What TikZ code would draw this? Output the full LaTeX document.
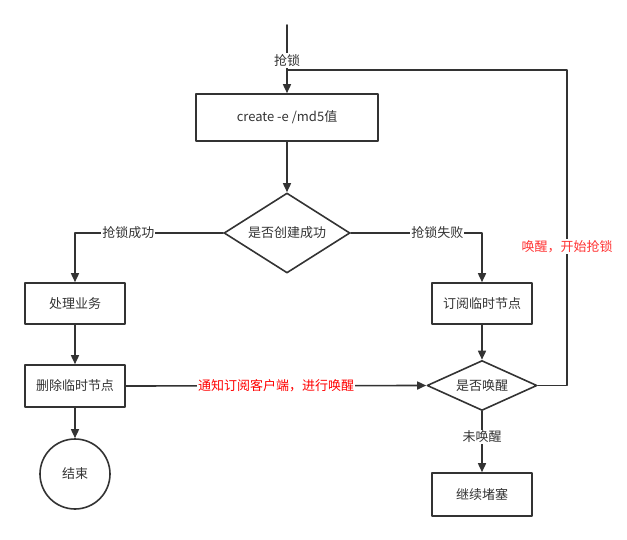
\documentclass[tikz,border=0pt]{standalone}
\usepackage{fontspec}
\setmainfont{Noto Sans CJK SC}
\usetikzlibrary{arrows.meta,shapes.geometric}
\definecolor{linegray}{RGB}{51,51,51}
\definecolor{wakered}{RGB}{255,0,0}
\definecolor{loopred}{RGB}{255,51,51}
\tikzset{
    lab/.style={
        font=\fontsize{13}{15}\selectfont
    }
}

\begin{document}
\begin{tikzpicture}[x=1pt,y=-1pt, line cap=round, line join=round]

% box + arrow styles
\tikzset{
  main/.style={draw=linegray, line width=1.6pt},
  flow/.style={main, -{Triangle[length=9pt,width=8pt]}},
  procbox/.style={rectangle, draw=linegray, line width=1.6pt, minimum width=100pt, minimum height=41pt, inner sep=0pt, lab, text=linegray},
  decide/.style={diamond, draw=linegray, line width=1.6pt, inner sep=0pt, lab, text=linegray},
  endcirc/.style={circle, draw=linegray, line width=1.6pt, minimum size=70pt, inner sep=0pt, lab, text=linegray},
  elab/.style={lab, fill=white, inner sep=1pt, text=linegray},
}

  \useasboundingbox (0,0) rectangle (627,540);

  % nodes
  \coordinate (start) at (287,25);
  \coordinate (merge) at (287,70);
  \coordinate (loop) at (567,70);

  \node[procbox, minimum width=182pt, minimum height=47pt] (create) at (287,117.5) {create -e /md5值};
  \node[decide, aspect=1.575, minimum width=126pt, minimum height=80pt] (created) at (287,233) {是否创建成功};
  \node[procbox] (handle) at (75,303.5) {处理业务};
  \node[procbox, minimum height=42pt] (delnode) at (75,386) {删除临时节点};
  \node[endcirc] (finish) at (75,474) {结束};
  \node[procbox] (subnode) at (482,303.5) {订阅临时节点};
  \node[decide, aspect=2.2, minimum width=110pt, minimum height=50pt] (wakeq) at (482,385.5) {是否唤醒};
  \node[procbox, minimum height=43pt] (block) at (482,494.5) {继续堵塞};

  % edges
  \draw[flow] (start) -- node[elab, pos=0.52] {抢锁} (create);
  \draw[flow] (create) -- (created);
  \draw[flow] (created.west) -| node[elab, pos=0.32] {抢锁成功} (handle.north);
  \draw[flow] (created.east) -| node[elab, pos=0.33] {抢锁失败} (subnode.north);
  \draw[flow] (handle) -- (delnode);
  \draw[flow] (delnode) -- (finish);
  \draw[flow] (subnode) -- (wakeq);
  \draw[flow] (delnode.east) -- node[elab, text=wakered] {通知订阅客户端，进行唤醒} (wakeq.west);
  \draw[flow] (wakeq.south) -- node[elab, pos=0.42] {未唤醒} (block.north);
  \draw[main] (wakeq.east) -| node[elab, pos=0.72, text=loopred] {唤醒，开始抢锁} (loop) -- (merge);

\end{tikzpicture}
\end{document}
